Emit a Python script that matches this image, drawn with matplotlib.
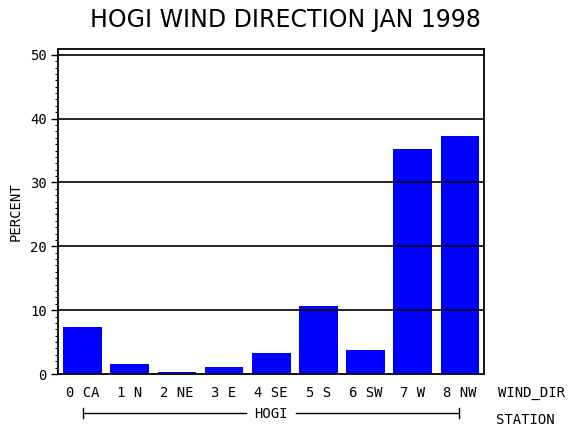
import matplotlib
matplotlib.use("Agg")
import matplotlib.pyplot as plt
from matplotlib.ticker import MultipleLocator

categories = ["0 CA", "1 N", "2 NE", "3 E", "4 SE", "5 S", "6 SW", "7 W", "8 NW"]
percent = [7.3, 1.5, 0.3, 1.1, 3.3, 10.7, 3.8, 35.3, 37.2]
yticks = [0, 10, 20, 30, 40, 50]
title = "HOGI WIND DIRECTION JAN 1998"
station = "HOGI"

W, H = 570, 430
fig = plt.figure(figsize=(W / 100, H / 100), dpi=100)
ax = fig.add_axes([58 / W, 1 - 374 / H, (484 - 58) / W, (374 - 49) / H])

x = list(range(len(categories)))
ax.bar(x, percent, width=0.82, color="#0000ff", zorder=2)
for t in yticks[1:]:
    ax.axhline(t, color="black", lw=1.2, zorder=3)

mono = dict(family="DejaVu Sans Mono", fontsize=10)

ax.set_xlim(-0.52, 8.51)
ax.set_ylim(0, 50.9)
ax.set_yticks(yticks)
ax.set_yticklabels([str(t) for t in yticks], **mono)
ax.yaxis.set_minor_locator(MultipleLocator(1))
ax.tick_params(axis="y", which="major", length=5, width=1, direction="out", pad=3)
ax.tick_params(axis="y", which="minor", length=2.5, width=0.8, direction="out")
ax.set_xticks([])
for s in ax.spines.values():
    s.set_linewidth(1.3)

for xi, c in zip(x, categories):
    ax.text(xi, -0.058, c, transform=ax.get_xaxis_transform(),
            ha="center", va="center", **mono)

fig.text(531 / W, 1 - 393 / H, "WIND_DIR", ha="center", va="center", **mono)
fig.text(525 / W, 1 - 420 / H, "STATION", ha="center", va="center", **mono)
fig.text(271 / W, 1 - 414 / H, station, ha="center", va="center", **mono)
y_br = 1 - 413 / H
fig.add_artist(plt.Line2D([83 / W, 246 / W], [y_br, y_br], color="black", lw=1))
fig.add_artist(plt.Line2D([296 / W, 459 / W], [y_br, y_br], color="black", lw=1))
for xx in (83, 459):
    fig.add_artist(plt.Line2D([xx / W, xx / W], [y_br - 5 / H, y_br + 5 / H], color="black", lw=1))

fig.text(16 / W, 1 - 212 / H, "PERCENT", rotation=90, ha="center", va="center", **mono)
fig.text(285 / W, 1 - 20 / H, title, ha="center", va="center", family="DejaVu Sans", fontsize=17)

fig.savefig("out.png", dpi=100, facecolor="white")
